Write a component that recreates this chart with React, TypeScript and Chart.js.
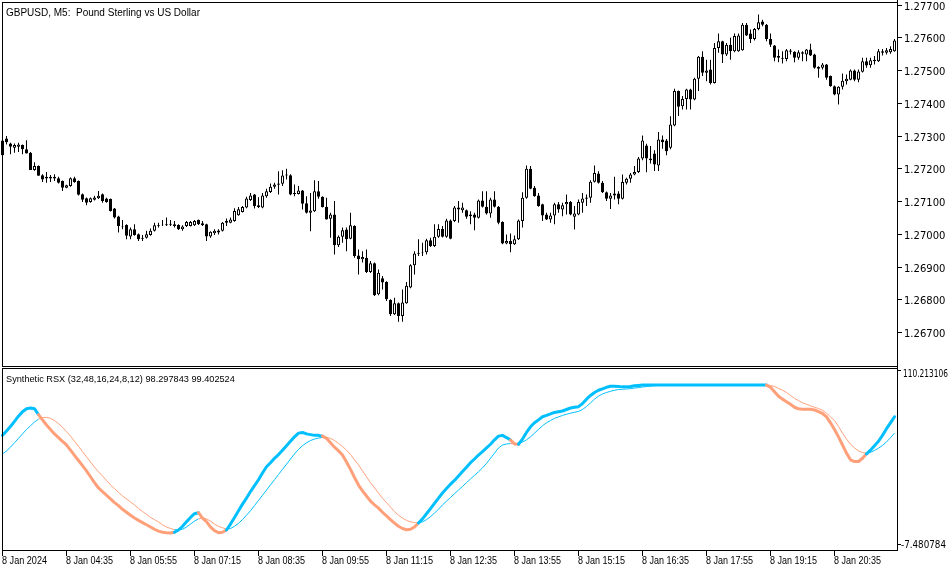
import React, { useEffect, useRef } from "react";
import { Chart, registerables } from "chart.js";

Chart.register(...registerables);

// ---------- candle data (GBPUSD M5) ----------
const OPEN = [
  1.27285, 1.27291, 1.27276, 1.27263, 1.27266, 1.27271, 1.27258, 1.27248, 1.27195, 1.27207,
  1.27179, 1.27169, 1.27174, 1.27169, 1.2717, 1.27161, 1.27141, 1.27146, 1.2717, 1.27161,
  1.27121, 1.27109, 1.27097, 1.27104, 1.27109, 1.27121, 1.27108, 1.27106, 1.27077, 1.27053,
  1.27024, 1.27027, 1.26992, 1.27014, 1.26999, 1.26985, 1.26988, 1.26996, 1.27009, 1.27024,
  1.27026, 1.27026, 1.27028, 1.27029, 1.27027, 1.27014, 1.27024, 1.27024, 1.27026, 1.27042,
  1.27032, 1.27029, 1.26992, 1.27002, 1.27004, 1.27009, 1.27034, 1.27034, 1.27039, 1.27057,
  1.27067, 1.2708, 1.27103, 1.2712, 1.27087, 1.2708, 1.27115, 1.27128, 1.27144, 1.2715,
  1.27153, 1.27178, 1.27179, 1.27122, 1.27122, 1.27132, 1.27093, 1.27064, 1.27069, 1.2713,
  1.27113, 1.27083, 1.27046, 1.27059, 1.26965, 1.26991, 1.27013, 1.26985, 1.27024, 1.26934,
  1.26922, 1.26927, 1.26883, 1.2691, 1.26815, 1.26864, 1.26853, 1.26798, 1.26754, 1.26788,
  1.26749, 1.26788, 1.26836, 1.26904, 1.26939, 1.26942, 1.26944, 1.2698, 1.26963, 1.26991,
  1.27015, 1.26991, 1.27041, 1.27039, 1.2708, 1.27072, 1.27072, 1.27054, 1.27059, 1.27049,
  1.27102, 1.27083, 1.27062, 1.27105, 1.27083, 1.27036, 1.2697, 1.26978, 1.26968, 1.26983,
  1.27039, 1.2711, 1.27199, 1.27141, 1.27117, 1.2709, 1.27059, 1.27044, 1.27056, 1.2709,
  1.27074, 1.2709, 1.27097, 1.27052, 1.27059, 1.27095, 1.27107, 1.2711, 1.27159, 1.27184,
  1.27156, 1.27127, 1.27107, 1.27117, 1.27123, 1.27107, 1.27156, 1.27168, 1.27181, 1.27189,
  1.2723, 1.2727, 1.2723, 1.27245, 1.27209, 1.27288, 1.27285, 1.27263, 1.27331, 1.27436,
  1.2739, 1.27412, 1.27441, 1.2741, 1.27474, 1.27541, 1.27492, 1.27502, 1.27461, 1.27568,
  1.27588, 1.27548, 1.27578, 1.27558, 1.27558, 1.27561, 1.27639, 1.27612, 1.27595, 1.27626,
  1.27649, 1.27639, 1.27595, 1.27575, 1.27543, 1.27538, 1.27534, 1.2756, 1.27556, 1.27538,
  1.27555, 1.27548, 1.27563, 1.27548, 1.2751, 1.27507, 1.27517, 1.27482, 1.27451, 1.27426,
  1.27449, 1.27466, 1.27471, 1.27499, 1.27471, 1.27495, 1.27527, 1.27515, 1.27527, 1.27527,
  1.27558, 1.27553, 1.27555, 1.27558,
];
const HIGH = [
  1.2729, 1.27299, 1.27278, 1.27276, 1.27278, 1.27273, 1.27286, 1.2725, 1.27219, 1.27209,
  1.27182, 1.27189, 1.2718, 1.27182, 1.27174, 1.27163, 1.2715, 1.27172, 1.27174, 1.27163,
  1.27123, 1.27111, 1.27111, 1.27116, 1.27131, 1.27123, 1.2711, 1.27108, 1.27079, 1.27055,
  1.27042, 1.27029, 1.27019, 1.27029, 1.27001, 1.26996, 1.27009, 1.27016, 1.27034, 1.27034,
  1.27042, 1.2705, 1.27042, 1.27039, 1.27029, 1.27026, 1.27039, 1.27039, 1.27042, 1.27044,
  1.27039, 1.27031, 1.27008, 1.27014, 1.27014, 1.27036, 1.27047, 1.2705, 1.27078, 1.27082,
  1.27085, 1.27113, 1.27125, 1.27122, 1.27112, 1.27125, 1.27138, 1.27154, 1.27156, 1.27191,
  1.27194, 1.27199, 1.27182, 1.27151, 1.27146, 1.27134, 1.27115, 1.27125, 1.27164, 1.27161,
  1.27115, 1.2711, 1.27064, 1.271, 1.26995, 1.27019, 1.27019, 1.27064, 1.27026, 1.26952,
  1.26947, 1.26952, 1.26917, 1.26912, 1.26891, 1.26871, 1.26855, 1.268, 1.26805, 1.2679,
  1.2683, 1.26853, 1.26907, 1.26947, 1.26983, 1.26973, 1.26985, 1.26988, 1.27029, 1.27029,
  1.27024, 1.27046, 1.27044, 1.27085, 1.271, 1.27095, 1.27074, 1.27069, 1.27064, 1.27105,
  1.2713, 1.2713, 1.2711, 1.2713, 1.27085, 1.27038, 1.26998, 1.27001, 1.26995, 1.27044,
  1.27127, 1.27209, 1.27207, 1.27146, 1.27125, 1.27092, 1.27064, 1.27064, 1.27095, 1.27097,
  1.27095, 1.2712, 1.271, 1.27085, 1.27105, 1.27125, 1.2712, 1.27164, 1.27209, 1.27191,
  1.27161, 1.27129, 1.27125, 1.27174, 1.2713, 1.27181, 1.27171, 1.27186, 1.27207, 1.27235,
  1.273, 1.27275, 1.27268, 1.27255, 1.27311, 1.273, 1.2729, 1.27359, 1.27443, 1.27438,
  1.27421, 1.27443, 1.27443, 1.27477, 1.27543, 1.27558, 1.27532, 1.27532, 1.27583, 1.27612,
  1.2759, 1.27583, 1.27599, 1.27612, 1.27612, 1.27644, 1.27644, 1.27624, 1.27629, 1.2767,
  1.27654, 1.27641, 1.27612, 1.27577, 1.27563, 1.27558, 1.27565, 1.27565, 1.27558, 1.27561,
  1.27558, 1.27565, 1.27581, 1.2755, 1.27512, 1.27522, 1.27519, 1.27484, 1.27453, 1.27451,
  1.2749, 1.27487, 1.27502, 1.27502, 1.27502, 1.27538, 1.27538, 1.27538, 1.27543, 1.27565,
  1.27565, 1.27568, 1.27573, 1.27595,
];
const LOW = [
  1.27238, 1.27273, 1.27243, 1.27248, 1.2725, 1.27243, 1.27245, 1.27195, 1.27193, 1.27177,
  1.27158, 1.27156, 1.27158, 1.27161, 1.27154, 1.27131, 1.27139, 1.27144, 1.27156, 1.27117,
  1.27097, 1.27087, 1.27095, 1.27102, 1.27106, 1.27095, 1.27095, 1.27068, 1.27047, 1.27004,
  1.27014, 1.26983, 1.26983, 1.26994, 1.26978, 1.26978, 1.26986, 1.26994, 1.27007, 1.27019,
  1.27024, 1.27024, 1.27024, 1.27019, 1.27012, 1.27009, 1.27021, 1.27022, 1.27024, 1.27027,
  1.27024, 1.26978, 1.26988, 1.26996, 1.26998, 1.27007, 1.27024, 1.27032, 1.27037, 1.27055,
  1.27065, 1.27078, 1.271, 1.27077, 1.27079, 1.27078, 1.2711, 1.27125, 1.27138, 1.2712,
  1.27146, 1.27166, 1.27118, 1.27115, 1.2712, 1.27074, 1.27062, 1.27008, 1.27067, 1.27107,
  1.2708, 1.27044, 1.26988, 1.26937, 1.2696, 1.26973, 1.26947, 1.26983, 1.26927, 1.26876,
  1.26912, 1.2688, 1.2688, 1.2681, 1.26812, 1.2683, 1.26795, 1.26749, 1.26752, 1.26731,
  1.26731, 1.26786, 1.26834, 1.26876, 1.26932, 1.26932, 1.26937, 1.2696, 1.2696, 1.26988,
  1.26989, 1.26988, 1.26983, 1.27036, 1.27034, 1.27064, 1.27046, 1.27029, 1.27011, 1.27047,
  1.2708, 1.27059, 1.27049, 1.2708, 1.27029, 1.26968, 1.26968, 1.26944, 1.26966, 1.26981,
  1.27019, 1.27107, 1.27136, 1.27113, 1.27083, 1.27039, 1.27042, 1.27034, 1.27029, 1.27064,
  1.27054, 1.27059, 1.27057, 1.27013, 1.27057, 1.27064, 1.27085, 1.27095, 1.27157, 1.27154,
  1.27125, 1.271, 1.27076, 1.27105, 1.2709, 1.27105, 1.27151, 1.27156, 1.27179, 1.27186,
  1.27225, 1.27188, 1.27215, 1.27192, 1.27192, 1.2726, 1.2724, 1.27258, 1.27329, 1.2736,
  1.2738, 1.2738, 1.2738, 1.27408, 1.27436, 1.27482, 1.27466, 1.27456, 1.27459, 1.27553,
  1.27522, 1.27543, 1.27532, 1.27555, 1.27556, 1.27559, 1.27604, 1.27583, 1.27591, 1.27622,
  1.27634, 1.27588, 1.27571, 1.27527, 1.27524, 1.2752, 1.27527, 1.27548, 1.27524, 1.27532,
  1.27527, 1.27527, 1.27543, 1.27504, 1.27477, 1.27502, 1.27471, 1.27449, 1.27423, 1.27395,
  1.27441, 1.27456, 1.27469, 1.27466, 1.27463, 1.27493, 1.27507, 1.27507, 1.27517, 1.27525,
  1.27545, 1.27548, 1.2755, 1.27556,
];
const CLOSE = [
  1.2724, 1.2728, 1.27266, 1.27271, 1.27273, 1.27258, 1.27245, 1.27195, 1.27207, 1.27177,
  1.27166, 1.27174, 1.27169, 1.27174, 1.27156, 1.27141, 1.27148, 1.2717, 1.27158, 1.27119,
  1.27104, 1.27095, 1.27109, 1.27111, 1.27116, 1.271, 1.27097, 1.2707, 1.2705, 1.27024,
  1.27022, 1.26994, 1.27014, 1.26996, 1.26983, 1.26988, 1.26999, 1.27009, 1.27026, 1.27026,
  1.27028, 1.27029, 1.27031, 1.27024, 1.27014, 1.27022, 1.27036, 1.27036, 1.27039, 1.27029,
  1.27026, 1.26992, 1.27006, 1.27009, 1.2701, 1.27034, 1.27039, 1.27044, 1.2707, 1.27075,
  1.27082, 1.27108, 1.27117, 1.27085, 1.27082, 1.27117, 1.2713, 1.27144, 1.27151, 1.27154,
  1.27178, 1.27181, 1.2712, 1.27125, 1.27132, 1.27092, 1.27064, 1.27071, 1.2713, 1.27113,
  1.27082, 1.27044, 1.27059, 1.26965, 1.26991, 1.27011, 1.26983, 1.27026, 1.26932, 1.26922,
  1.26929, 1.26883, 1.2691, 1.26812, 1.26881, 1.26851, 1.268, 1.26754, 1.26788, 1.26749,
  1.2679, 1.26841, 1.26904, 1.2694, 1.26942, 1.26944, 1.2698, 1.26963, 1.26991, 1.27015,
  1.26991, 1.27041, 1.26985, 1.2708, 1.27074, 1.2708, 1.27052, 1.27059, 1.27049, 1.27102,
  1.27083, 1.27062, 1.27105, 1.27083, 1.27034, 1.2697, 1.26978, 1.26968, 1.26983, 1.27041,
  1.2711, 1.27199, 1.27138, 1.27115, 1.27085, 1.27056, 1.27044, 1.27056, 1.2709, 1.27074,
  1.27087, 1.27097, 1.27059, 1.27062, 1.27097, 1.27108, 1.27111, 1.27159, 1.27186, 1.27156,
  1.27127, 1.27107, 1.27117, 1.27123, 1.27107, 1.27158, 1.27168, 1.27181, 1.27189, 1.2723,
  1.27285, 1.2723, 1.27225, 1.27212, 1.27288, 1.2728, 1.27252, 1.27334, 1.27436, 1.27388,
  1.27412, 1.27441, 1.2741, 1.27474, 1.27541, 1.27492, 1.27499, 1.27461, 1.27568, 1.27588,
  1.27548, 1.27578, 1.27558, 1.27604, 1.27606, 1.27639, 1.27606, 1.27595, 1.27626, 1.27646,
  1.27639, 1.27595, 1.27578, 1.27538, 1.27538, 1.27535, 1.27561, 1.27556, 1.27538, 1.27555,
  1.2755, 1.27563, 1.27545, 1.27507, 1.27504, 1.27517, 1.27477, 1.27451, 1.27426, 1.27449,
  1.27468, 1.27474, 1.27499, 1.27471, 1.27496, 1.27527, 1.27514, 1.2753, 1.27532, 1.27558,
  1.27553, 1.27561, 1.27565, 1.27591,
];

// ---------- Synthetic RSX ----------
const RSX_FAST = [
  66, 69, 72, 75.5, 79, 82, 84, 84.5, 84, 80,
  76.5, 73, 70, 67, 64.5, 62, 59.5, 56, 52.5, 49,
  45.5, 42, 38, 34, 30.4, 28, 25.5, 23, 20.5, 18.5,
  16, 14, 12, 10.1, 8.5, 7, 5.5, 4, 2.5, 1.2,
  0.5, 0.2, 0, 0.5, 2, 4.5, 7.5, 10.5, 13, 13.7,
  10, 7.6, 4, 1.5, 0.2, 0.5, 2, 6, 10.5, 15,
  19.5, 23.6, 28, 32, 36, 40.5, 44.8, 47.5, 50.5, 53,
  56, 59, 62, 65, 67.5, 68, 67, 66.5, 66, 66,
  65.5, 64, 61, 58, 55.5, 52.7, 48, 43, 37.5, 32.4,
  28.5, 25, 21.5, 19, 16.8, 14, 11.5, 9, 6.7, 4.5,
  3, 2.2, 2.5, 4, 6.7, 9.5, 13, 16.5, 20, 23.5,
  27, 30, 33, 35.5, 38.5, 41.5, 44.5, 47.5, 50, 52.7,
  55, 57.5, 60, 63, 65.5, 66, 64.5, 62.8, 60.2, 60,
  63.5, 68, 71.8, 74.5, 76.5, 78.6, 79.5, 80.5, 81.5, 82,
  82.5, 83.5, 84.5, 85, 85.4, 87.5, 90.5, 93, 95, 96.5,
  97.5, 98.5, 99.2, 99.2, 99, 98.8, 98.8, 99, 99.5, 99.8,
  100, 100, 100, 100, 100, 100, 100, 100, 100, 100,
  100, 100, 100, 100, 100, 100, 100, 100, 100, 100,
  100, 100, 100, 100, 100, 100, 100, 100, 100, 100,
  100, 100, 98.5, 95.5, 92.5, 90.5, 88.8, 87, 85, 84,
  83.7, 83.6, 83.6, 83.2, 82, 80.8, 78.5, 74.5, 70, 65,
  59.5, 54, 49.5, 48.3, 48.3, 50.5, 53.5, 56, 59, 62,
  66, 70.5, 74.5, 78.6,
];
const RSX_SLOW = [
  53.4, 55.5, 58, 61, 64, 67, 70, 72.5, 75, 77,
  78, 78.2, 77.5, 76, 74, 71.5, 68.5, 65.5, 62, 58.5,
  55, 51.5, 48, 44.5, 41.4, 38.5, 35.5, 32.5, 30, 27.5,
  25, 23, 21, 18.9, 16.5, 14.5, 12.5, 10.5, 9, 7.5,
  5.5, 4, 3, 2.2, 2, 2.5, 4, 6, 8, 9.5,
  10.2, 9.5, 8, 6, 4.5, 3.5, 2.6, 3, 4.5, 6.5,
  9, 12, 15, 18.5, 22, 25.5, 29, 32.5, 36, 39.5,
  43, 46.5, 50, 53.5, 56.5, 59, 61, 62.5, 63.5, 64.2,
  64.6, 64.6, 64, 62.5, 60.5, 58.5, 56, 53, 49.5, 46,
  42, 38, 34, 30.5, 27, 23.5, 20.5, 17.5, 14.5, 12,
  10, 8.5, 7.5, 7, 6.8, 7.5, 9, 11, 13.5, 16,
  18.9, 21.5, 24, 26.5, 29, 31.5, 34, 36.5, 39, 41.4,
  44, 47, 50.5, 54, 57.5, 59.5, 60.2, 60.4, 60.5, 60.7,
  61.5, 63, 65, 67.5, 70, 72.5, 74.5, 76, 77.5, 78.5,
  79.5, 80.3, 81, 81.6, 82.2, 83.5, 85.5, 88, 90.5, 92.5,
  94, 95, 95.8, 96.5, 97, 97.2, 97.4, 97.6, 98, 98.3,
  98.7, 99, 99.3, 99.6, 100, 100, 100, 100, 100, 100,
  100, 100, 100, 100, 100, 100, 100, 100, 100, 100,
  100, 100, 100, 100, 100, 100, 100, 100, 100, 100,
  100, 100, 99.8, 99, 97.8, 96.5, 95, 93, 91, 89.5,
  88, 87, 86, 85, 84.2, 83, 81, 78.5, 76, 72,
  67.5, 63.5, 60, 57.5, 55.5, 54.3, 54, 54.5, 55.8, 57.3,
  59.2, 61.5, 64.5, 67.5,
];

// ---------- axes ----------
const TIME_TICK_BARS = [0, 16, 32, 48, 64, 80, 96, 112, 128, 144, 160, 176, 192, 208];
const TIME_LABELS = [
  "8 Jan 2024", "8 Jan 04:35", "8 Jan 05:55", "8 Jan 07:15", "8 Jan 08:35", "8 Jan 09:55",
  "8 Jan 11:15", "8 Jan 12:35", "8 Jan 13:55", "8 Jan 15:15", "8 Jan 16:35", "8 Jan 17:55",
  "8 Jan 19:15", "8 Jan 20:35",
];
const PRICE_TICKS = [1.267, 1.268, 1.269, 1.27, 1.271, 1.272, 1.273, 1.274, 1.275, 1.276, 1.277];
const PRICE_LABELS = ["1.26700", "1.26800", "1.26900", "1.27000", "1.27100", "1.27200", "1.27300", "1.27400", "1.27500", "1.27600", "1.27700"];
const PRICE_MIN = 1.265961;
const PRICE_MAX = 1.2771436;
const RSX_MIN = -7.480784;
const RSX_MAX = 110.213106;
const RSX_LABELS = ["110.213106", "-7.480784"];
const TITLE_TOP = "GBPUSD, M5:  Pound Sterling vs US Dollar";
const TITLE_BOTTOM = "Synthetic RSX (32,48,16,24,8,12) 98.297843 99.402524";

const BLUE = "#00BFFF";
const SALMON = "#FFA07A";
const AXIS_FONT = '10px "DejaVu Sans", sans-serif';
const TIME_FONT = '10px "Liberation Sans", sans-serif';
const TITLE_FONT = '10px "Liberation Sans", sans-serif';
const TITLE2_FONT = '9.2px "Liberation Sans", sans-serif';

const X_MIN = -0.625;
const X_MAX = 223.375;

const topDecor = {
  id: "topDecor",
  afterDraw(chart: any) {
    const ctx = chart.ctx as CanvasRenderingContext2D;
    const ys = chart.scales.y;
    ctx.save();
    ctx.fillStyle = "#000";
    ctx.fillRect(2, 2, 896, 1);
    ctx.fillRect(2, 2, 1, 365);
    ctx.fillRect(897, 0, 1, 367);
    ctx.fillRect(2, 366, 896, 1);
    ctx.font = AXIS_FONT;
    ctx.textAlign = "left";
    ctx.textBaseline = "middle";
    PRICE_TICKS.forEach((v, k) => {
      const y = Math.round(ys.getPixelForValue(v));
      ctx.fillRect(898, y, 4, 1);
      ctx.fillText(PRICE_LABELS[k], 904, y + 2);
    });
    ctx.font = TITLE_FONT;
    ctx.textBaseline = "alphabetic";
    ctx.fillText(TITLE_TOP, 6, 16);
    ctx.restore();
  },
};

const bottomDecor = {
  id: "bottomDecor",
  afterDraw(chart: any) {
    const ctx = chart.ctx as CanvasRenderingContext2D;
    const ys = chart.scales.y;
    const xs = chart.scales.x;
    ctx.save();
    ctx.fillStyle = "#000";
    ctx.fillRect(2, 1, 896, 1);
    ctx.fillRect(2, 1, 1, 183);
    ctx.fillRect(897, 0, 1, 184);
    ctx.fillRect(2, 183, 896, 1);
    ctx.font = AXIS_FONT;
    ctx.textAlign = "left";
    ctx.textBaseline = "middle";
    const yTop = Math.round(ys.getPixelForValue(RSX_MAX));
    const yBot = Math.round(ys.getPixelForValue(RSX_MIN));
    ctx.fillRect(898, yTop, 3, 1);
    ctx.fillText(RSX_LABELS[0], 903, yTop + 4, 45);
    ctx.fillRect(898, yBot, 3, 1);
    ctx.fillText(RSX_LABELS[1], 901, yBot + 1, 45);
    ctx.font = TIME_FONT;
    TIME_TICK_BARS.forEach((b, k) => {
      const x = Math.floor(xs.getPixelForValue(b));
      ctx.fillRect(x, 184, 1, 5);
      ctx.fillText(TIME_LABELS[k], x, 194, k === 0 ? 45 : 47);
    });
    ctx.font = TITLE2_FONT;
    ctx.textBaseline = "alphabetic";
    ctx.fillText(TITLE_BOTTOM, 6, 15);
    ctx.restore();
  },
};

export default function App() {
  const topRef = useRef<HTMLCanvasElement>(null);
  const botRef = useRef<HTMLCanvasElement>(null);

  useEffect(() => {
    const idx = OPEN.map((_, i) => i);
    const bodies = idx.map((i) => ({ x: i, y: [OPEN[i], CLOSE[i]] }));
    const wicks = idx.map((i) => ({ x: i, y: [LOW[i], HIGH[i]] }));
    const bodyFill = idx.map((i) => (CLOSE[i] >= OPEN[i] ? "#ffffff" : "#000000"));

    const xScale = { type: "linear", min: X_MIN, max: X_MAX, offset: false, display: false };

    const top = new Chart(topRef.current as HTMLCanvasElement, {
      type: "bar",
      data: {
        datasets: [
          {
            data: bodies,
            backgroundColor: bodyFill,
            borderColor: "#000000",
            borderWidth: 1,
            borderSkipped: false,
            barThickness: 3,
            grouped: false,
            inflateAmount: 0,
          },
          {
            data: wicks,
            backgroundColor: "#000000",
            borderWidth: 0,
            barThickness: 1,
            grouped: false,
            inflateAmount: 0,
          },
        ],
      },
      options: {
        responsive: false,
        animation: false,
        devicePixelRatio: 1,
        events: [],
        layout: { padding: { left: 0, top: 0, right: 55, bottom: 1 } },
        plugins: { legend: { display: false }, tooltip: { enabled: false } },
        scales: {
          x: xScale,
          y: { type: "linear", min: PRICE_MIN, max: PRICE_MAX, display: false },
        },
      },
      plugins: [topDecor],
    } as any);

    const seg = (ctx: any) =>
      RSX_FAST[ctx.p1DataIndex] >= RSX_SLOW[ctx.p1DataIndex] ? BLUE : SALMON;

    const bot = new Chart(botRef.current as HTMLCanvasElement, {
      type: "line",
      data: {
        datasets: [
          {
            data: RSX_FAST.map((v, i) => ({ x: i, y: v })),
            borderColor: BLUE,
            borderWidth: 3,
            pointRadius: 0,
            tension: 0,
            borderJoinStyle: "round",
            borderCapStyle: "round",
            segment: { borderColor: seg },
          },
          {
            data: RSX_SLOW.map((v, i) => ({ x: i, y: v })),
            borderColor: BLUE,
            borderWidth: 1,
            pointRadius: 0,
            tension: 0,
            segment: { borderColor: seg },
          },
        ],
      },
      options: {
        responsive: false,
        animation: false,
        devicePixelRatio: 1,
        events: [],
        layout: { padding: { left: 0, top: 3, right: 55, bottom: 28 } },
        plugins: { legend: { display: false }, tooltip: { enabled: false } },
        scales: {
          x: xScale,
          y: { type: "linear", min: RSX_MIN, max: RSX_MAX, display: false },
        },
      },
      plugins: [bottomDecor],
    } as any);

    return () => {
      top.destroy();
      bot.destroy();
    };
  }, []);

  return (
    <div style={{ position: "fixed", left: 0, top: 0, width: 951, height: 572, background: "#ffffff", overflow: "hidden" }}>
      <canvas ref={topRef} width={951} height={367} style={{ position: "absolute", left: 0, top: 0, width: 951, height: 367 }} />
      <canvas ref={botRef} width={951} height={205} style={{ position: "absolute", left: 0, top: 367, width: 951, height: 205 }} />
    </div>
  );
}
